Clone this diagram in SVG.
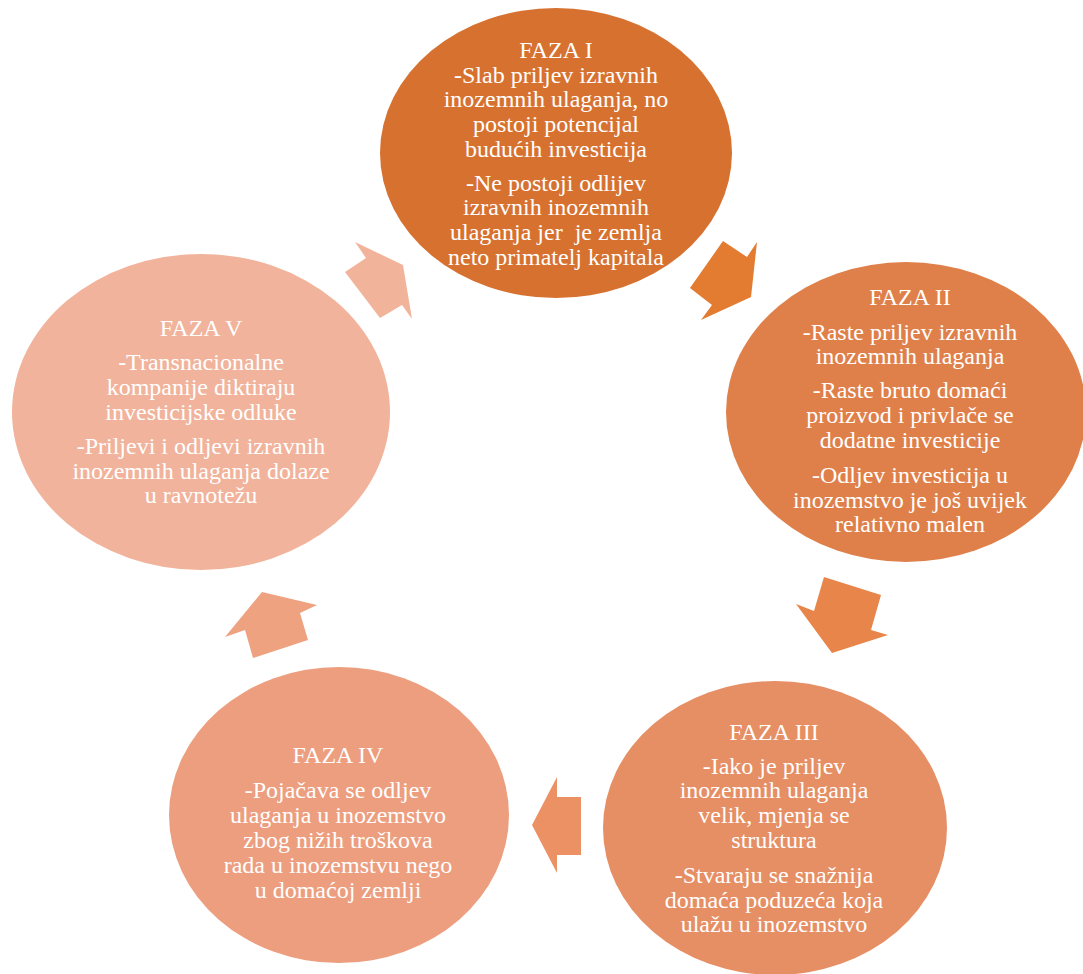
<svg xmlns="http://www.w3.org/2000/svg" width="1083" height="974" viewBox="0 0 1083 974">
<style>
text{font-family:"Liberation Serif","Times New Roman",serif;font-size:24px;fill:#ffffff;text-anchor:middle;white-space:pre}
</style>
<rect width="1083" height="974" fill="#ffffff"/>
<g id="connectors">
<polygon id="a1" points="723,241 747,257 757,242 751,297 701,320 712,305 690,288" fill="#E37B31"/>
<polygon id="a2" points="824,577 881,595 871,630 888,635 832,653 796,604 814,611" fill="#E8854A"/>
<polygon id="a3" points="557,777 557,797 581,797 581,855 557,855 557,873 532,825" fill="#EC9164"/>
<polygon id="a4" points="262,592 317,605 300,613 308,640 253,658 245,630 225,637" fill="#EEA280"/>
<polygon id="a5" points="355,242 403,265 412,319 402,305 380,318 345,272 366,258" fill="#F1B49B"/>
</g>
<g id="faza1">
<ellipse cx="556" cy="153" rx="176" ry="145" fill="#D77130"/>
<text x="556" y="58">FAZA I</text>
<text x="556" y="83">-Slab priljev izravnih</text>
<text x="556" y="107">inozemnih ulaganja, no</text>
<text x="556" y="132">postoji potencijal</text>
<text x="556" y="157">budućih investicija</text>
<text x="556" y="191">-Ne postoji odlijev</text>
<text x="556" y="215">izravnih inozemnih</text>
<text x="556" y="240" xml:space="preserve">ulaganja jer  je zemlja</text>
<text x="556" y="265">neto primatelj kapitala</text>
</g>
<g id="faza2">
<ellipse cx="906" cy="412" rx="180" ry="150" fill="#DF7F49"/>
<text x="910" y="305">FAZA II</text>
<text x="910" y="340">-Raste priljev izravnih</text>
<text x="910" y="364">inozemnih ulaganja</text>
<text x="910" y="398">-Raste bruto domaći</text>
<text x="910" y="423">proizvod i privlače se</text>
<text x="910" y="448">dodatne investicije</text>
<text x="910" y="483">-Odljev investicija u</text>
<text x="910" y="508">inozemstvo je još uvijek</text>
<text x="910" y="532">relativno malen</text>
</g>
<g id="faza3">
<ellipse cx="775" cy="828" rx="172" ry="147" fill="#E68E64"/>
<text x="774" y="740">FAZA III</text>
<text x="774" y="774">-Iako je priljev</text>
<text x="774" y="798">inozemnih ulaganja</text>
<text x="774" y="823">velik, mjenja se</text>
<text x="774" y="848">struktura</text>
<text x="774" y="883">-Stvaraju se snažnija</text>
<text x="774" y="908">domaća poduzeća koja</text>
<text x="774" y="932">ulažu u inozemstvo</text>
</g>
<g id="faza4">
<ellipse cx="339" cy="815" rx="170" ry="148" fill="#EC9E7F"/>
<text x="338" y="763">FAZA IV</text>
<text x="338" y="798">-Pojačava se odljev</text>
<text x="338" y="823">ulaganja u inozemstvo</text>
<text x="338" y="848">zbog nižih troškova</text>
<text x="338" y="873">rada u inozemstvu nego</text>
<text x="338" y="898">u domaćoj zemlji</text>
</g>
<g id="faza5">
<ellipse cx="201" cy="412" rx="189" ry="158" fill="#F1B39B"/>
<text x="201" y="336">FAZA V</text>
<text x="201" y="370">-Transnacionalne</text>
<text x="201" y="395">kompanije diktiraju</text>
<text x="201" y="420">investicijske odluke</text>
<text x="201" y="454">-Priljevi i odljevi izravnih</text>
<text x="201" y="479">inozemnih ulaganja dolaze</text>
<text x="201" y="503">u ravnotežu</text>
</g>
</svg>
